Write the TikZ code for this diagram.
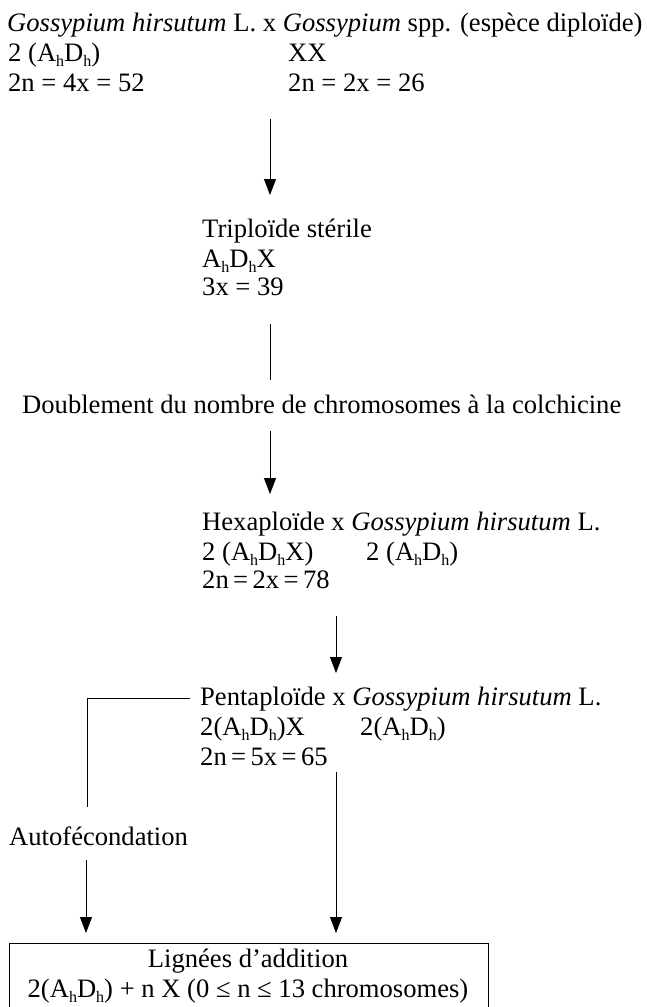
\documentclass[tikz,border=0pt]{standalone}
\usepackage{fontspec}
\setmainfont{Liberation Serif}
\usetikzlibrary{arrows.meta}
\newcommand\subh{\smash{\raisebox{-5.5pt}{\fontsize{16}{16}\selectfont h}}}
\begin{document}
\begin{tikzpicture}[x=1pt,y=-1pt,
  txt/.style={anchor=base west,inner sep=0pt,font=\fontsize{26.6}{30}\selectfont},
  ctxt/.style={anchor=base,inner sep=0pt,font=\fontsize{26.6}{30}\selectfont},
  conn/.style={line width=0.9pt},
  arr/.style={conn,-{Triangle[width=12pt,length=16pt]}}]
\useasboundingbox (0,0) rectangle (646,1007);
% top block
\node[txt] (t1) at (7,31) {\textit{Gossypium hirsutum} L. x \textit{Gossypium} spp. (espèce diploïde)};
\node[txt] (t2a) at (8,61) {2 (A\subh D\subh)};
\node[txt] (t2b) at (288,61) {XX};
\node[txt] (t3a) at (8,91) {2n = 4x = 52};
\node[txt] (t3b) at (288,91) {2n = 2x = 26};
% triploide
\node[txt] (tr1) at (202,237) {Triploïde stérile};
\node[txt] (tr2) at (202,267) {A\subh D\subh X};
\node[txt] (tr3) at (202,295) {3x = 39};
% doublement
\node[txt] (db) at (22,413) {Doublement du nombre de chromosomes à la colchicine};
% hexaploide
\node[txt] (hx1) at (202,530) {Hexaploïde x \textit{Gossypium hirsutum} L.};
\node[txt] (hx2a) at (202,560) {2 (A\subh D\subh X)};
\node[txt] (hx2b) at (366,560) {2 (A\subh D\subh)};
\node[txt] (hx3) at (202,588) {2n\,=\,2x\,=\,78};
% pentaploide
\node[txt] (pt1) at (200,705) {Pentaploïde x \textit{Gossypium hirsutum} L.};
\node[txt] (pt2a) at (200,735) {2(A\subh D\subh)X};
\node[txt] (pt2b) at (360,735) {2(A\subh D\subh)};
\node[txt] (pt3) at (200,765) {2n\,=\,5x\,=\,65};
% autofecondation
\node[txt] (af) at (9,845) {Autofécondation};
% box
\node[draw,line width=0.9pt,inner sep=0pt,minimum width=479pt,minimum height=64pt,anchor=north west] (box) at (9,943) {};
\node[ctxt] (bx1) at (248,967) {Lignées d’addition};
\node[ctxt] (bx2) at (248,997) {2(A\subh D\subh) + n X (0 ≤ n ≤ 13 chromosomes)};
% connectors
\coordinate (a1s) at (270,119); \coordinate (a1e) at (270,195);
\draw[arr] (a1s) -- (a1e);
\coordinate (l2s) at (270,324); \coordinate (l2e) at (270,380);
\draw[conn] (l2s) -- (l2e);
\coordinate (a3s) at (270,431); \coordinate (a3e) at (270,494);
\draw[arr] (a3s) -- (a3e);
\coordinate (a4s) at (336,616); \coordinate (a4e) at (336,673);
\draw[arr] (a4s) -- (a4e);
\coordinate (hl1) at (190,698); \coordinate (hl2) at (87,698); \coordinate (hl3) at (87,807);
\draw[conn] (hl1) -- (hl2) -- (hl3);
\coordinate (a5s) at (86,860); \coordinate (a5e) at (86,933);
\draw[arr] (a5s) -- (a5e);
\coordinate (a6s) at (336,772); \coordinate (a6e) at (336,933);
\draw[arr] (a6s) -- (a6e);
\end{tikzpicture}
\end{document}
